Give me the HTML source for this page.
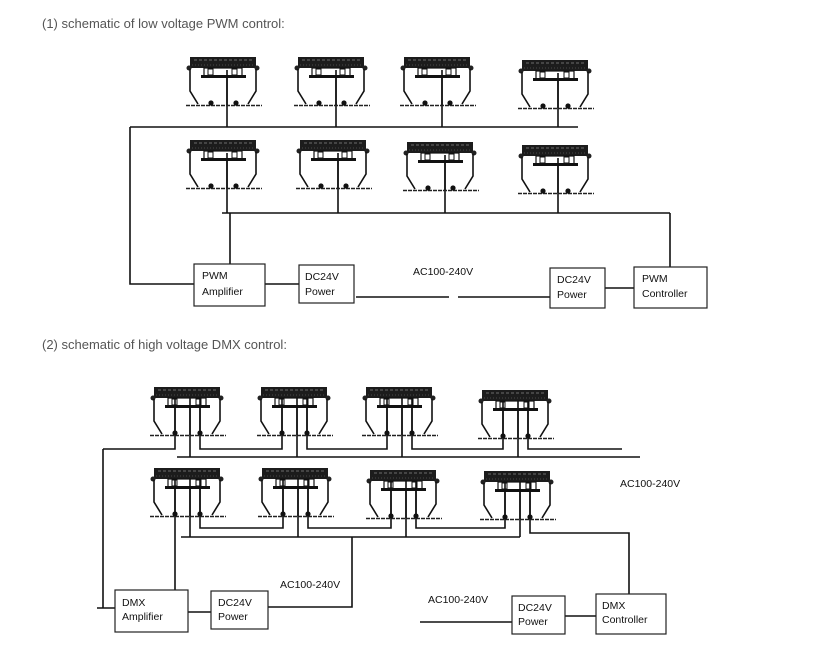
<!DOCTYPE html>
<html><head><meta charset="utf-8"><style>
body{margin:0;background:#fff;width:834px;height:656px;overflow:hidden}
svg{display:block}
text{font-family:"Liberation Sans",sans-serif}
.t{font-size:13px;fill:#555}
.b{font-size:10.5px;fill:#111}
</style></head><body>
<svg width="834" height="656" viewBox="0 0 834 656">
<defs>
<g id="fx">
<rect x="4" y="0" width="66" height="11" fill="#1c1c1c"/>
<line x1="8" y1="3" x2="66" y2="3" stroke="#888" stroke-width="0.8" stroke-dasharray="3 2"/>
<line x1="6" y1="8" x2="68" y2="8" stroke="#777" stroke-width="0.6" stroke-dasharray="1 2"/>
<circle cx="3" cy="11" r="2.5" fill="#222"/><circle cx="71" cy="11" r="2.5" fill="#222"/>
<path d="M4,12 L4,34 L12,47 M70,12 L70,34 L62,47" fill="none" stroke="#111" stroke-width="1.6"/>
<rect x="18" y="11" width="38" height="8" fill="#fff" stroke="#111" stroke-width="1.2"/>
<rect x="22" y="12" width="5" height="6" fill="none" stroke="#111"/>
<rect x="46" y="12" width="5" height="6" fill="none" stroke="#111"/>
<rect x="15" y="18" width="45" height="3" fill="#111"/>
<line x1="0" y1="48.5" x2="76" y2="48.5" stroke="#222" stroke-width="1.4" stroke-dasharray="4 1"/>
<circle cx="25" cy="46" r="2.6" fill="#111"/><circle cx="50" cy="46" r="2.6" fill="#111"/>
</g>
</defs>
<text x="42" y="28" class="t">(1) schematic of low voltage PWM control:</text>
<text x="42" y="349" class="t">(2) schematic of high voltage DMX control:</text>
<g stroke="#111" stroke-width="1.6" fill="none">
<!-- section 1 wires -->
<path d="M227,70 V127 M336,70 V127 M442,70 V127 M558,73 V127 M130,127 H578"/>
<path d="M227,153 V213 M338,153 V213 M445,155 V213 M558,158 V213 M222,213 H670 M670,213 V267"/>
<path d="M130,127 V284 H194 M230,213 V264 M265,284 H299 M356,297 H449 M458,297 H550 M605,288 H634"/>
<!-- section 2 row1 -->
<path d="M103,449 H175 V400 M190,400 V457 M200,400 V449 H282 V400 M297,400 V457 M307,400 V449 H387 V400 M402,400 V457 M412,400 V449 H503 V403 M518,403 V457 M528,403 V449 H622 M177,457 H640"/>
<!-- section 2 row2 -->
<path d="M103,449 V608 M97,608 H115 M175,481 V590 M190,481 V537 M200,481 V528 H283 V481 M298,481 V537 M308,481 V528 H391 V483 M406,483 V537 M416,483 V528 H505 V484 M520,484 V537 M530,484 V533 H629 V594 M181,537 H520 M352,537 V607 H268 M188,612 H211 M420,622 H512 M565,616 H596"/>
</g>
<g>
<use href="#fx" x="186" y="57"/><use href="#fx" x="294" y="57"/><use href="#fx" x="400" y="57"/><use href="#fx" x="518" y="60"/>
<use href="#fx" x="186" y="140"/><use href="#fx" x="296" y="140"/><use href="#fx" x="403" y="142"/><use href="#fx" x="518" y="145"/>
<use href="#fx" x="150" y="387"/><use href="#fx" x="257" y="387"/><use href="#fx" x="362" y="387"/><use href="#fx" x="478" y="390"/>
<use href="#fx" x="150" y="468"/><use href="#fx" x="258" y="468"/><use href="#fx" x="366" y="470"/><use href="#fx" x="480" y="471"/>
</g>
<!-- redraw wires over fixture interiors -->
<g stroke="#111" stroke-width="1.6" fill="none">
<path d="M227,70 V105 M336,70 V105 M442,70 V105 M558,73 V108 M227,153 V188 M338,153 V188 M445,155 V190 M558,158 V193"/>
<path d="M175,398 V433 M190,398 V435 M200,398 V433 M282,398 V433 M297,398 V435 M307,398 V433 M387,398 V433 M402,398 V435 M412,398 V433 M503,401 V436 M518,401 V438 M528,401 V436"/>
<path d="M175,479 V514 M190,479 V516 M200,479 V514 M283,479 V514 M298,479 V516 M308,479 V514 M391,481 V516 M406,481 V518 M416,481 V516 M505,482 V517 M520,482 V519 M530,482 V517"/>
</g>
<g fill="#fff" stroke="#222" stroke-width="1.2">
<rect x="194" y="264" width="71" height="42"/><rect x="299" y="265" width="55" height="38"/>
<rect x="550" y="268" width="55" height="40"/><rect x="634" y="267" width="73" height="41"/>
<rect x="115" y="590" width="73" height="42"/><rect x="211" y="591" width="57" height="38"/>
<rect x="512" y="596" width="53" height="38"/><rect x="596" y="594" width="70" height="40"/>
</g>
<g class="b">
<text x="202" y="279">PWM</text><text x="202" y="295">Amplifier</text>
<text x="305" y="280">DC24V</text><text x="305" y="295">Power</text>
<text x="413" y="275">AC100-240V</text>
<text x="557" y="283">DC24V</text><text x="557" y="298">Power</text>
<text x="642" y="282">PWM</text><text x="642" y="297">Controller</text>
<text x="122" y="606">DMX</text><text x="122" y="620">Amplifier</text>
<text x="218" y="606">DC24V</text><text x="218" y="620">Power</text>
<text x="280" y="588">AC100-240V</text>
<text x="428" y="603">AC100-240V</text>
<text x="620" y="487">AC100-240V</text>
<text x="518" y="611">DC24V</text><text x="518" y="625">Power</text>
<text x="602" y="609">DMX</text><text x="602" y="623">Controller</text>
</g>
</svg>
</body></html>
